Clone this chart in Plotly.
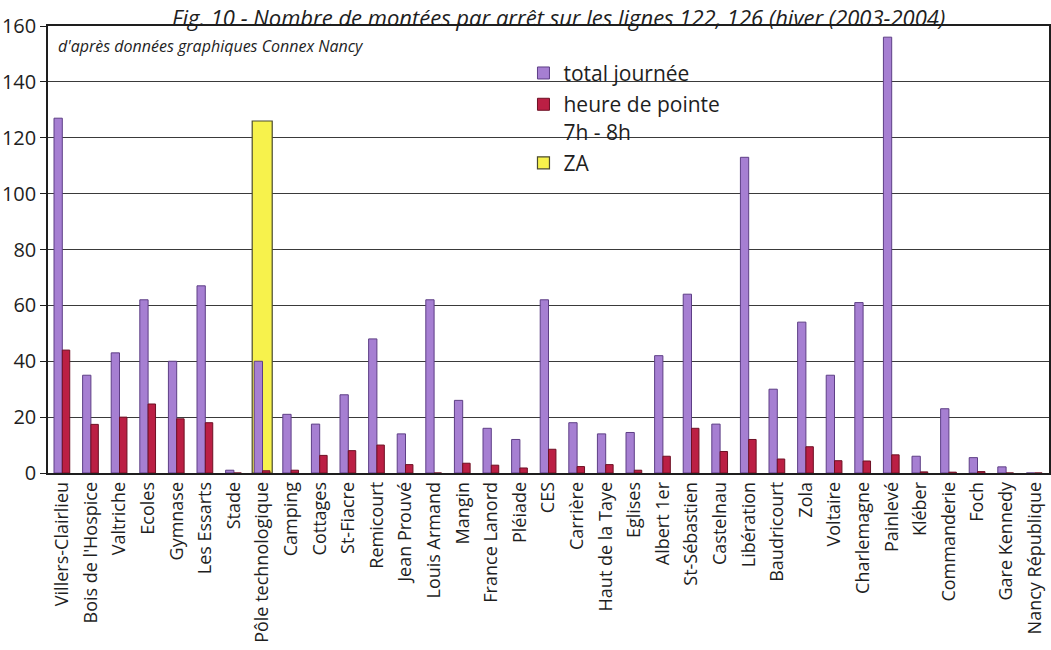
import plotly.graph_objects as go

# bus stops along lines 122 / 126
stops = [
    "Villers-Clairlieu", "Bois de l'Hospice", "Valtriche", "Ecoles", "Gymnase",
    "Les Essarts", "Stade", "Pôle technologique", "Camping", "Cottages",
    "St-Fiacre", "Remicourt", "Jean Prouvé", "Louis Armand", "Mangin",
    "France Lanord", "Pléiade", "CES", "Carrière", "Haut de la Taye",
    "Eglises", "Albert 1er", "St-Sébastien", "Castelnau", "Libération",
    "Baudricourt", "Zola", "Voltaire", "Charlemagne", "Painlevé",
    "Kléber", "Commanderie", "Foch", "Gare Kennedy", "Nancy République",
]

total_journee = [
    127, 35, 43, 62, 40, 67, 1, 40, 21, 17.5,
    28, 48, 14, 62, 26, 16, 12, 62, 18, 14,
    14.5, 42, 64, 17.5, 113, 30, 54, 35, 61, 156,
    6, 23, 5.5, 2.2, 0,
]

heure_pointe = [
    44, 17.4, 20, 24.7, 19.4, 18, 0, 0.8, 1, 6.3,
    8, 10, 3, 0, 3.5, 2.8, 1.8, 8.5, 2.3, 3,
    1, 6, 16, 7.7, 12, 5, 9.4, 4.4, 4.3, 6.5,
    0.4, 0.3, 0.5, 0, 0,
]

# zone d'activités: only the technology park stop
za = [
    None, None, None, None, None, None, None, 126, None, None,
    None, None, None, None, None, None, None, None, None, None,
    None, None, None, None, None, None, None, None, None, None,
    None, None, None, None, None,
]

FONT = "Open Sans"
INK = "#1e1e1e"
GRID = "#3a3a3a"

fig = go.Figure()

# yellow ZA bar drawn first so it sits behind the other bars
fig.add_trace(go.Bar(
    x=stops, y=za, name="ZA",
    width=0.7, offset=-0.36,
    marker=dict(color="#f7f24c", line=dict(color="#4a4a30", width=1.2)),
    legendgroup="c", legendrank=3,
))
fig.add_trace(go.Bar(
    x=stops, y=total_journee, name="total journée",
    width=0.29, offset=-0.29,
    marker=dict(color="#a67fd2", line=dict(color="#5e3f86", width=1)),
    legendgroup="a", legendrank=1,
))
fig.add_trace(go.Bar(
    x=stops, y=heure_pointe, name="heure de pointe<br>7h - 8h",
    width=0.26, offset=0.0,
    marker=dict(color="#bb1f44", line=dict(color="#6e1024", width=1)),
    legendgroup="b", legendrank=2,
))

fig.update_layout(
    template="none",
    width=1051, height=650,
    margin=dict(l=48, r=2, t=26, b=177),
    paper_bgcolor="white", plot_bgcolor="white",
    barmode="overlay",
    font=dict(family=FONT, color=INK),
    showlegend=True,
    legend=dict(
        x=0.475, y=0.94, xanchor="left", yanchor="top",
        bgcolor="rgba(0,0,0,0)", borderwidth=0,
        font=dict(size=21, color=INK),
        traceorder="grouped", tracegroupgap=1, valign="top",
    ),
)

fig.update_xaxes(
    type="category", tickangle=-90,
    tickfont=dict(size=18, color=INK),
    showline=True, linecolor=INK, linewidth=1.5, mirror=True,
    showgrid=False, ticks="", automargin=False,
)
fig.update_yaxes(
    range=[0, 160], dtick=20,
    tickfont=dict(size=20, color=INK),
    showline=True, linecolor=INK, linewidth=1.5, mirror=True,
    ticks="outside", ticklen=6, tickcolor=INK,
    showgrid=True, gridcolor=GRID, gridwidth=1.4,
    zeroline=False, automargin=False,
)

fig.add_annotation(
    text="Fig. 10 - Nombre de montées par arrêt sur les lignes 122, 126 (hiver (2003-2004)",
    xref="paper", yref="paper", x=0.51, y=1.0 + 26 / 447,
    xanchor="center", yanchor="top", showarrow=False,
    font=dict(size=22, style="italic", color=INK),
)
fig.add_annotation(
    text="d'après données graphiques Connex Nancy",
    xref="paper", yref="paper", x=0.008, y=0.955,
    xanchor="left", yanchor="middle", showarrow=False,
    font=dict(size=16, style="italic", color=INK),
)

# drop the default page margin so the figure sits at the window's corner
fig.write_html(
    "out.html",
    config={"displayModeBar": False},
    post_script="document.body.style.margin='0px';",
)
